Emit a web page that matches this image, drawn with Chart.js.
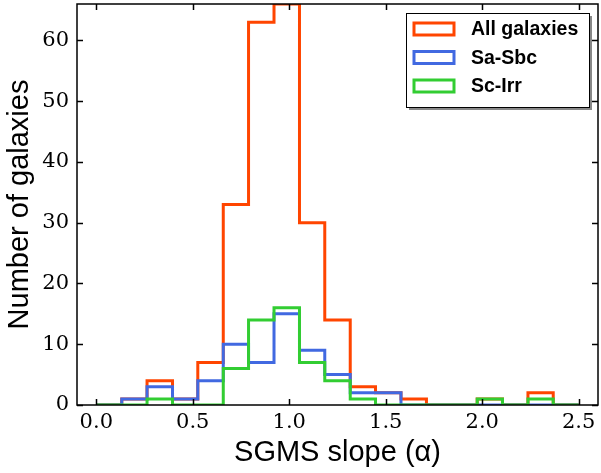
<!DOCTYPE html>
<html>
<head>
<meta charset="utf-8">
<script src="https://cdn.jsdelivr.net/npm/chart.js@4.4.0/dist/chart.umd.min.js"></script>
<style>
  html, body { margin: 0; padding: 0; background: #fff; }
  #wrap { width: 601px; height: 473px; position: relative; }
</style>
</head>
<body>
<div id="wrap"><canvas id="c" width="601" height="473"></canvas></div>
<script>
// Histogram bin edges (SGMS slope alpha)
const binEdges = [0.000, 0.132, 0.263, 0.395, 0.526, 0.658, 0.789, 0.921, 1.053, 1.184,
                  1.316, 1.447, 1.579, 1.711, 1.842, 1.974, 2.105, 2.237, 2.368, 2.500];
// Counts per bin
const allGalaxies = [0, 1, 4, 1, 7, 33, 63, 66, 30, 14, 3, 2, 1, 0, 0, 1, 0, 2, 0];
const saSbc       = [0, 1, 3, 1, 4, 10, 7, 15, 9, 5, 2, 2, 0, 0, 0, 0, 0, 0, 0];
const scIrr       = [0, 0, 1, 0, 0, 6, 14, 16, 7, 4, 1, 0, 0, 0, 0, 1, 0, 1, 0];
const seriesNames = ['All galaxies', 'Sa-Sbc', 'Sc-Irr'];
const xTicks = [0.0, 0.5, 1.0, 1.5, 2.0, 2.5];
const yTicks = [0, 10, 20, 30, 40, 50, 60];

const colors = ['#FF4500', '#4169E1', '#32CD32'];

function stepPoints(counts) {
  const pts = [{ x: binEdges[0], y: 0 }];
  counts.forEach((c, i) => pts.push({ x: binEdges[i], y: c }));
  pts.push({ x: binEdges[binEdges.length - 1], y: 0 });
  return pts;
}

const tickFont = { family: '"DejaVu Serif", serif', size: 21, weight: 'normal' };
const titleFont = { family: '"Liberation Sans", Arial, sans-serif', size: 29 };

const frameTicks = {
  id: 'frameTicks',
  afterDatasetsDraw(chart) {
    const { ctx, chartArea: a, scales } = chart;
    const xs = scales.x, ys = scales.y;
    ctx.save();
    ctx.strokeStyle = '#000';
    ctx.lineWidth = 1.5;
    ctx.strokeRect(a.left, a.top, a.right - a.left, a.bottom - a.top);
    const L = 6;
    ctx.beginPath();
    xTicks.forEach(v => {
      const px = Math.round(xs.getPixelForValue(v)) + 0.5;
      ctx.moveTo(px, a.bottom); ctx.lineTo(px, a.bottom - L);
      ctx.moveTo(px, a.top); ctx.lineTo(px, a.top + L);
    });
    yTicks.forEach(v => {
      const py = Math.round(ys.getPixelForValue(v)) + 0.5;
      ctx.moveTo(a.left, py); ctx.lineTo(a.left + L, py);
      ctx.moveTo(a.right, py); ctx.lineTo(a.right - L, py);
    });
    ctx.stroke();

    // legend
    const bx = 406, by = 13, bw = 183, bh = 94;
    ctx.fillStyle = '#888';
    ctx.fillRect(bx + 3, by + 3, bw, bh);
    ctx.fillStyle = '#fff';
    ctx.fillRect(bx, by, bw, bh);
    ctx.lineWidth = 1;
    ctx.strokeStyle = '#000';
    ctx.strokeRect(bx + 0.5, by + 0.5, bw, bh);
    ctx.font = 'bold 19.5px "Liberation Sans", Arial, sans-serif';
    ctx.textBaseline = 'middle';
    ctx.textAlign = 'left';
    seriesNames.forEach((n, i) => {
      const cy = 29 + i * 28.5;
      ctx.strokeStyle = colors[i];
      ctx.lineWidth = 3;
      ctx.strokeRect(414, cy - 6, 40, 12);
      ctx.fillStyle = '#000';
      ctx.fillText(n, 471, cy + 1);
    });
    ctx.restore();
  }
};

const datasets = [allGalaxies, saSbc, scIrr].map((counts, i) => ({
  label: seriesNames[i],
  data: stepPoints(counts),
  borderColor: colors[i],
  backgroundColor: colors[i],
  borderWidth: 3,
  borderJoinStyle: 'miter',
  stepped: 'before',
  pointRadius: 0,
  fill: false,
  order: 3 - i
}));

new Chart(document.getElementById('c'), {
  type: 'line',
  data: { datasets },
  options: {
    responsive: false,
    animation: false,
    layout: { padding: { left: 0, right: 3, top: 4, bottom: 0 } },
    plugins: { legend: { display: false }, tooltip: { enabled: false } },
    scales: {
      x: {
        type: 'linear',
        min: -0.1, max: 2.6,
        grid: { display: false, drawTicks: false },
        border: { display: false },
        afterBuildTicks: s => { s.ticks = xTicks.map(v => ({ value: v })); },
        afterFit: s => { s.height = 68; s.paddingLeft = 0; s.paddingRight = 0; },
        ticks: { color: '#000', font: tickFont, padding: 5, maxRotation: 0,
                 callback: v => Number(v).toFixed(1) },
        title: { display: true, text: 'SGMS slope (α)', color: '#000',
                 font: titleFont, padding: { top: 0, bottom: 3 } }
      },
      y: {
        type: 'linear',
        min: 0, max: 66,
        grid: { display: false, drawTicks: false },
        border: { display: false },
        afterBuildTicks: s => { s.ticks = yTicks.map(v => ({ value: v })); },
        afterFit: s => { s.width = 77; s.paddingTop = 0; s.paddingBottom = 0; },
        ticks: { color: '#000', font: tickFont, padding: 8 },
        title: { display: true, text: 'Number of galaxies', color: '#000',
                 font: titleFont, padding: { top: 3, bottom: 0 } }
      }
    }
  },
  plugins: [frameTicks]
});
</script>
</body>
</html>
